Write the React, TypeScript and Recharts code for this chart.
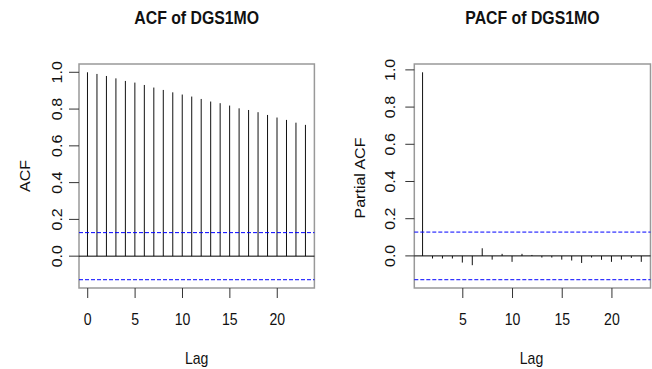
import React from "react";
import { ComposedChart, Bar, XAxis, YAxis, ReferenceLine, ReferenceArea } from "recharts";

const acfLags = [0, 1, 2, 3, 4, 5, 6, 7, 8, 9, 10, 11, 12, 13, 14, 15, 16, 17, 18, 19, 20, 21, 22, 23];
const acfValues = [1.0, 0.991, 0.98, 0.967, 0.953, 0.944, 0.931, 0.917, 0.904, 0.891, 0.879, 0.868, 0.855, 0.841, 0.832, 0.819, 0.804, 0.795, 0.783, 0.768, 0.754, 0.741, 0.726, 0.714];
const pacfLags = [1, 2, 3, 4, 5, 6, 7, 8, 9, 10, 11, 12, 13, 14, 15, 16, 17, 18, 19, 20, 21, 22, 23];
const pacfValues = [0.987, -0.014, -0.014, -0.014, -0.036, -0.05, 0.041, -0.02, 0.011, -0.032, 0.011, 0.005, -0.009, -0.009, -0.02, -0.025, -0.038, -0.009, -0.021, -0.032, -0.02, -0.011, -0.032];
const confLimit = 0.128;
const acfXTicks = [0, 5, 10, 15, 20];
const pacfXTicks = [5, 10, 15, 20];
const yTicks = [0, 0.2, 0.4, 0.6, 0.8, 1.0];
const seriesName = "DGS1MO";

const acfData = acfLags.map((lag, i) => ({ lag, value: acfValues[i] }));
const pacfData = pacfLags.map((lag, i) => ({ lag, value: pacfValues[i] }));

const FONT = "'Liberation Sans', Arial, Helvetica, sans-serif";
const SQ = 0.88;
const AXW = 40;

function rExtend(lo: number, hi: number): [number, number] {
  const d = (hi - lo) * 0.04;
  return [lo - d, hi + d];
}

const Spike = (props: any) => {
  const { x, y, width, height } = props;
  if (x == null || y == null) return null;
  const cx = x + width / 2;
  return <line x1={cx} x2={cx} y1={y} y2={y + height} stroke="#111" strokeWidth={1} />;
};

const XTick = (props: any) => {
  const { x, y, payload } = props;
  return (
    <g transform={`translate(${x},${y + 25}) scale(${SQ},1)`}>
      <text x={0} y={0} textAnchor="middle" fontSize={16} fontFamily={FONT} fill="#111">
        {payload.value}
      </text>
    </g>
  );
};

const YTick = (props: any) => {
  const { x, y, payload } = props;
  return (
    <g transform={`translate(${x},${y}) scale(${SQ},1) rotate(-90)`}>
      <text x={0} y={0} textAnchor="middle" fontSize={16} fontFamily={FONT} fill="#111">
        {Number(payload.value).toFixed(1)}
      </text>
    </g>
  );
};

function Panel(props: {
  data: { lag: number; value: number }[];
  lags: number[];
  values: number[];
  xTicks: number[];
  width: number;
  margin: { top: number; right: number; bottom: number; left: number };
  yTickSize: number;
  yTickMargin: number;
}) {
  const { data, lags, values, xTicks, width, margin, yTickSize, yTickMargin } = props;
  const xDom = rExtend(lags[0], lags[lags.length - 1]);
  const yDom = rExtend(Math.min(-confLimit, ...values), Math.max(confLimit, ...values));
  return (
    <ComposedChart width={width} height={369} data={data} margin={margin}>
      <XAxis
        dataKey="lag"
        type="number"
        domain={xDom}
        ticks={xTicks}
        allowDataOverflow
        height={AXW}
        axisLine={false}
        tickLine={{ stroke: "#333" }}
        tickSize={10}
        tickMargin={2}
        tick={<XTick />}
        interval={0}
      />
      <YAxis
        type="number"
        domain={yDom}
        ticks={yTicks}
        allowDataOverflow
        width={AXW}
        axisLine={false}
        tickLine={{ stroke: "#333" }}
        tickSize={yTickSize}
        tickMargin={yTickMargin}
        tick={<YTick />}
        interval={0}
      />
      <ReferenceArea
        x1={xDom[0]}
        x2={xDom[1]}
        y1={yDom[0]}
        y2={yDom[1]}
        fill="none"
        fillOpacity={0}
        stroke="#999"
        strokeWidth={1.5}
        ifOverflow="visible"
      />
      <ReferenceLine y={0} stroke="#000" strokeWidth={1} />
      <ReferenceLine y={confLimit} stroke="#0000ff" strokeDasharray="4 2" strokeWidth={1} />
      <ReferenceLine y={-confLimit} stroke="#0000ff" strokeDasharray="4 2" strokeWidth={1} />
      <Bar dataKey="value" barSize={1} shape={<Spike />} isAnimationActive={false} />
    </ComposedChart>
  );
}

function HText(props: { x: number; y: number; size: number; bold?: boolean; children: React.ReactNode }) {
  return (
    <g transform={`translate(${props.x},${props.y}) scale(${SQ},1)`}>
      <text x={0} y={0} textAnchor="middle" fontSize={props.size} fontWeight={props.bold ? "bold" : "normal"} fontFamily={FONT} fill="#111">
        {props.children}
      </text>
    </g>
  );
}

function VText(props: { x: number; y: number; size: number; children: React.ReactNode }) {
  return (
    <g transform={`translate(${props.x},${props.y}) scale(${SQ},1) rotate(-90)`}>
      <text x={0} y={0} textAnchor="middle" fontSize={props.size} fontFamily={FONT} fill="#111">
        {props.children}
      </text>
    </g>
  );
}

export default function App() {
  return (
    <div style={{ position: "absolute", left: 0, top: 0, width: 652, height: 369, background: "#fff", overflow: "hidden" }}>
      <div style={{ position: "absolute", left: 0, top: 0 }}>
        <Panel
          data={acfData}
          lags={acfLags}
          values={acfValues}
          xTicks={acfXTicks}
          width={330}
          margin={{ top: 64, right: 15.6, bottom: 81 - AXW, left: 79 - AXW }}
          yTickSize={10}
          yTickMargin={7}
        />
      </div>
      <div style={{ position: "absolute", left: 330, top: 0 }}>
        <Panel
          data={pacfData}
          lags={pacfLags}
          values={pacfValues}
          xTicks={pacfXTicks}
          width={322}
          margin={{ top: 64, right: 1.5, bottom: 81 - AXW, left: 84.3 - AXW }}
          yTickSize={9}
          yTickMargin={10}
        />
      </div>
      <svg width={652} height={369} style={{ position: "absolute", left: 0, top: 0, pointerEvents: "none" }}>
        <HText x={196.7} y={24} size={18} bold>{`ACF of ${seriesName}`}</HText>
        <HText x={532.4} y={24} size={18} bold>{`PACF of ${seriesName}`}</HText>
        <HText x={196.7} y={364} size={16}>Lag</HText>
        <HText x={531.5} y={364} size={16}>Lag</HText>
        <VText x={29.5} y={176} size={16}>ACF</VText>
        <VText x={364.5} y={178} size={16}>Partial ACF</VText>
      </svg>
    </div>
  );
}
